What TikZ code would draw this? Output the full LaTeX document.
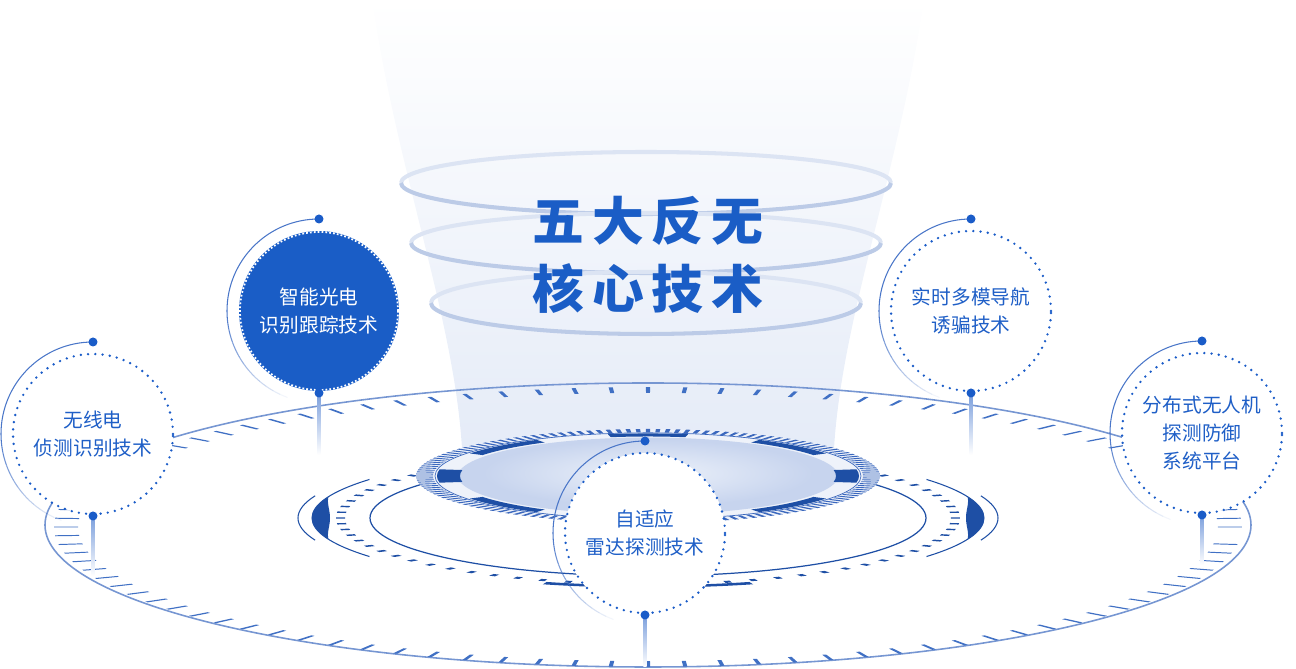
\documentclass[tikz,border=0pt]{standalone}
\usepackage{fontspec}
\newfontfamily\cjk{Noto Sans CJK SC}
\newfontfamily\cjktitle[LetterSpace=15]{Noto Sans CJK SC}
\usetikzlibrary{calc}

\definecolor{techblue}{HTML}{1A5DC6}
\definecolor{textblue}{HTML}{1F5FC7}
\definecolor{dotblue}{HTML}{1A5CC8}
\definecolor{tickblue}{HTML}{4070C4}
\definecolor{ringline}{HTML}{7696D2}
\definecolor{darkring}{HTML}{1E4FA5}
\definecolor{hatchblue}{HTML}{3B68BD}
\definecolor{funnel}{HTML}{E3EAF7}
\definecolor{ringlight}{HTML}{DCE4F3}
\definecolor{ringdark}{HTML}{BCCBE7}
\definecolor{platelight}{HTML}{EEF2FA}
\definecolor{disc}{HTML}{C7D4EE}
\definecolor{disclight}{HTML}{EDF2FA}
\definecolor{stemblue}{HTML}{7A9EDC}
\definecolor{haloblue}{HTML}{4A76C8}

\tikzset{
  tech/.style={circle, fill=white, minimum size=3.2cm, inner sep=0pt, align=center,
    text=textblue, font=\cjk\fontsize{11.2}{15.9}\selectfont},
  techfill/.style={tech, fill=techblue, text=white},
  title/.style={align=center, text=techblue, font=\cjktitle\bfseries\fontsize{29.5}{39}\selectfont},
  rim/.style={dotblue, line width=1.5pt, line cap=round, dash pattern=on 0pt off 4.13pt},
  halo/.style={haloblue, line width=0.6pt},
  band/.style={line width=2.3pt},
}

\begin{document}
\begin{tikzpicture}[x=0.02cm, y=0.02cm]
\useasboundingbox (0,0) rectangle (1296,669);

% light beam
\shade[top color=white, middle color=funnel!35!white, bottom color=funnel]
  (372,669) .. controls (400,480) and (463,330) .. (463,189)
  -- (833,189) .. controls (833,330) and (896,480) .. (924,669) -- cycle;

% rings round the title
\foreach \y/\rx/\ry in {486/245/31, 426/235/30, 366/215/31} {
  \draw[band, ringlight] (646+\rx,\y) arc[start angle=0, end angle=180, x radius=\rx, y radius=\ry];
  \draw[band, ringdark] (646-\rx,\y) arc[start angle=180, end angle=360, x radius=\rx, y radius=\ry];
}

\node[title] (title) at (648,414) {五大反无\\核心技术};

% big dial
\draw[ringline, line width=0.9pt] (648,144) ellipse[x radius=603, y radius=142];
\begin{scope}[shift={(648,142)}, yscale=0.2355]
  \foreach \a in {0,3.6,...,356.4}
    \fill[tickblue] (\a-0.2:570) -- (\a+0.2:570) -- (\a+0.2:594) -- (\a-0.2:594) -- cycle;
\end{scope}

% radar base
\begin{scope}[shift={(648,151)}, yscale=0.205]
  \draw[darkring, line width=0.6pt] (146:336) arc[start angle=146, end angle=214, radius=336];
  \draw[darkring, line width=0.6pt] (-34:336) arc[start angle=-34, end angle=34, radius=336];
  \draw[darkring, line width=0.6pt] (162:350) arc[start angle=162, end angle=198, radius=350];
  \draw[darkring, line width=0.6pt] (-18:350) arc[start angle=-18, end angle=18, radius=350];
  \fill[darkring] plot[domain=162:198, samples=25] (\x:336)
    -- plot[domain=198:162, samples=25] (\x:{336-18*cos(5*(\x-180))}) -- cycle;
  \fill[darkring] plot[domain=-18:18, samples=25] (\x:336)
    -- plot[domain=18:-18, samples=25] (\x:{336-18*cos(5*\x)}) -- cycle;
  \fill[darkring] (252:328) arc[start angle=252, end angle=288, radius=328]
    -- (288:340) arc[start angle=288, end angle=252, radius=340] -- cycle;
\end{scope}
\begin{scope}[shift={(648,151)}, yscale=0.2147]
  \foreach \a in {0,5,...,355}
    \fill[darkring] (\a-0.6:303) -- (\a+0.6:303) -- (\a+0.6:312) -- (\a-0.6:312) -- cycle;
\end{scope}
\draw[darkring, line width=0.7pt] (648,151) ellipse[x radius=278, y radius=58];

% platform
\begin{scope}[shift={(648,193)}, yscale=0.2026]
  \fill[platelight] (0,0) circle[radius=232];
  \foreach \a in {0,2.5,...,357.5}
    \fill[hatchblue] (\a-0.55:215) -- (\a+0.55:215) -- (\a+0.55:232) -- (\a-0.55:232) -- cycle;
  \draw[hatchblue, line width=0.4pt] (0,0) circle[radius=213];
  \fill[disc] (0,0) circle[radius=190];
  \shade[inner color=disclight, outer color=disc] (0,14) circle[radius=165];
  \foreach \a/\w/\ri/\ro in {90/11/195/210, 270/11/195/210, 45/13/195/210, 135/13/195/210,
      225/13/195/210, 315/13/195/210, 0/9/188/211, 180/9/188/211} {
    \pgfmathsetmacro\s{\a-\w}
    \pgfmathsetmacro\e{\a+\w}
    \fill[darkring] (\s:\ri) arc[start angle=\s, end angle=\e, radius=\ri]
      -- (\e:\ro) arc[start angle=\e, end angle=\s, radius=\ro] -- cycle;
  }
\end{scope}

% technology circles
\node[tech] (radio) at (93,235) {无线电\\侦测识别技术};
\node[techfill] (optic) at (319,358) {智能光电\\识别跟踪技术};
\node[tech] (navi) at (971,358) {实时多模导航\\诱骗技术};
\node[tech] (net) at (1202,236) {分布式无人机\\探测防御\\系统平台};
\node[tech] (radar) at (645,136) {自适应\\雷达探测技术};

\foreach \n in {radio, navi, net, radar}
  \draw[rim] (\n.center) circle[radius=80];
\draw[white, line width=1pt, dash pattern=on 1pt off 1.2pt] (optic.center) circle[radius=79];

\foreach \n/\l in {radio/60, optic/62, navi/62, net/50, radar/52} {
  \coordinate (\n-top) at ($(\n.center)+(0,92)$);
  \coordinate (\n-bot) at ($(\n.center)+(0,-82)$);
  \coordinate (\n-end) at ($(\n-bot)+(0,-\l)$);
  \draw[halo] (\n-top) arc[start angle=90, end angle=180, radius=92];
  \foreach \a in {180,185,...,245} {
    \pgfmathsetmacro\o{1-(\a-180)/70}
    \draw[halo, opacity=\o] ($(\n.center)+(\a:92)$) arc[start angle=\a, end angle=\a+5, radius=92];
  }
  \shade[top color=stemblue, bottom color=white] ($(\n-bot)+(-1.6,0)$) rectangle ($(\n-end)+(1.6,0)$);
  \fill[dotblue] (\n-top) circle[radius=4.5];
  \fill[dotblue] (\n-bot) circle[radius=4.5];
}

\end{tikzpicture}
\end{document}
